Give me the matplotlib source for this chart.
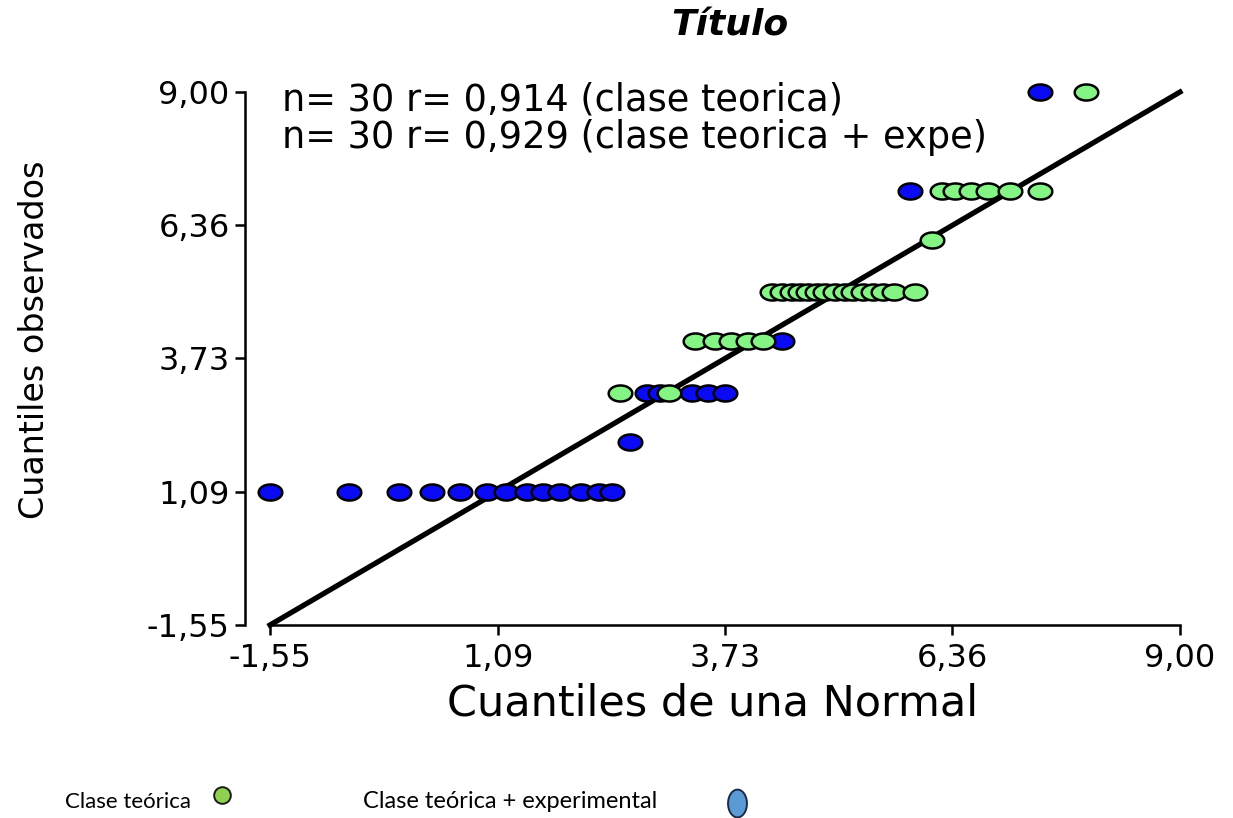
import matplotlib
matplotlib.use("Agg")
import matplotlib.pyplot as plt
import numpy as np
from matplotlib.lines import Line2D

plt.rcParams["font.family"] = ["DejaVu Sans"]

# Data: theoretical (x) vs observed (y) quantiles
teo_x = [2.51, 3.07,
         3.38, 3.61, 3.80, 3.99, 4.17,
         4.27, 4.38, 4.50, 4.59, 4.69, 4.79, 4.88, 5.00, 5.12, 5.21, 5.33, 5.44,
         5.56, 5.68, 5.93,
         6.12,
         6.24, 6.39, 6.58, 6.77, 7.03, 7.38,
         7.91]
teo_y = [3.04, 3.04,
         4.07, 4.07, 4.07, 4.07, 4.07,
         5.04, 5.04, 5.04, 5.04, 5.04, 5.04, 5.04, 5.04, 5.04, 5.04, 5.04, 5.04,
         5.04, 5.04, 5.04,
         6.07,
         7.04, 7.04, 7.04, 7.04, 7.04, 7.04,
         9.00]

exp_x = [-1.55, -0.64, -0.06, 0.33, 0.65, 0.96, 1.19, 1.43, 1.62, 1.81, 2.06, 2.26, 2.41,
         2.62,
         2.82, 2.97, 3.34, 3.53, 3.72,
         4.38,
         5.87,
         7.38]
exp_y = [1.09] * 13 + [2.07] + [3.04] * 5 + [4.07] + [7.04] + [9.00]

ticks = [-1.55, 1.09, 3.73, 6.36, 9.00]
tick_labels = ["-1,55", "1,09", "3,73", "6,36", "9,00"]

# elliptical marker, wider than tall
t = np.linspace(0, 2 * np.pi, 60)
ellipse = np.column_stack([np.cos(t), 0.68 * np.sin(t)])

fig = plt.figure(figsize=(12.33, 8.18), dpi=100)
ax = fig.add_axes([245 / 1233, (818 - 625) / 818, 935 / 1233, 533 / 818])

ax.plot([-1.55, 9.0], [-1.55, 9.0], color="black", lw=3.8, zorder=2, clip_on=False)
ax.plot(exp_x, exp_y, ls="none", marker=ellipse, ms=17, mfc="#0a0af5", mec="black",
        mew=1.8, zorder=3, clip_on=False)
ax.plot(teo_x, teo_y, ls="none", marker=ellipse, ms=17, mfc="#84f584", mec="black",
        mew=1.8, zorder=3, clip_on=False)

ax.set_xlim(-1.84, 9.0)
ax.set_ylim(-1.55, 9.0)
ax.spines["top"].set_visible(False)
ax.spines["right"].set_visible(False)
ax.spines["bottom"].set_bounds(-1.55, 9.0)
ax.spines["left"].set_bounds(-1.55, 9.0)
for s in ("left", "bottom"):
    ax.spines[s].set_linewidth(1.8)

ax.set_xticks(ticks)
ax.set_xticklabels(tick_labels)
ax.set_yticks(ticks)
ax.set_yticklabels(tick_labels)
ax.tick_params(axis="both", length=7, width=1.8, labelsize=23)
ax.tick_params(axis="x", pad=6)
ax.tick_params(axis="y", pad=4)

ax.set_xlabel("Cuantiles de una Normal", fontsize=31, labelpad=6)
ax.set_ylabel("Cuantiles observados", fontsize=24, va="center")
ax.yaxis.set_label_coords(-0.225, 0.535)

ax.text(282 / 1233, 1 - 100 / 818, "n= 30 r= 0,914 (clase teorica)",
        transform=fig.transFigure, fontsize=26.5, va="center", ha="left")
ax.text(282 / 1233, 1 - 138 / 818, "n= 30 r= 0,929 (clase teorica + expe)",
        transform=fig.transFigure, fontsize=26.5, va="center", ha="left")

fig.text(730 / 1233, 1 - 25 / 818, "Título", fontsize=26, fontweight="bold",
         style="italic", ha="center", va="center")

# bottom legend (drawn like the original, text followed by a marker)
fig.text(65 / 1233, 1 - 802 / 818, "Clase teórica", fontsize=16, family="Lato",
         va="center", ha="left")
fig.add_artist(Line2D([222 / 1233], [1 - 795 / 818], transform=fig.transFigure,
                      marker="o", ms=12, mfc="#92d050", mec="#1a1a1a", mew=1.4, ls="none"))
fig.text(363 / 1233, 1 - 802 / 818, "Clase teórica + experimental", fontsize=17,
         family="Lato", va="center", ha="left")
tall = np.column_stack([0.68 * np.cos(t), np.sin(t)])
fig.add_artist(Line2D([737 / 1233], [1 - 803 / 818], transform=fig.transFigure,
                      marker=tall, ms=20, mfc="#5b9bd5", mec="#1a2a4a", mew=1.4, ls="none"))

fig.savefig("out.png", dpi=100)
